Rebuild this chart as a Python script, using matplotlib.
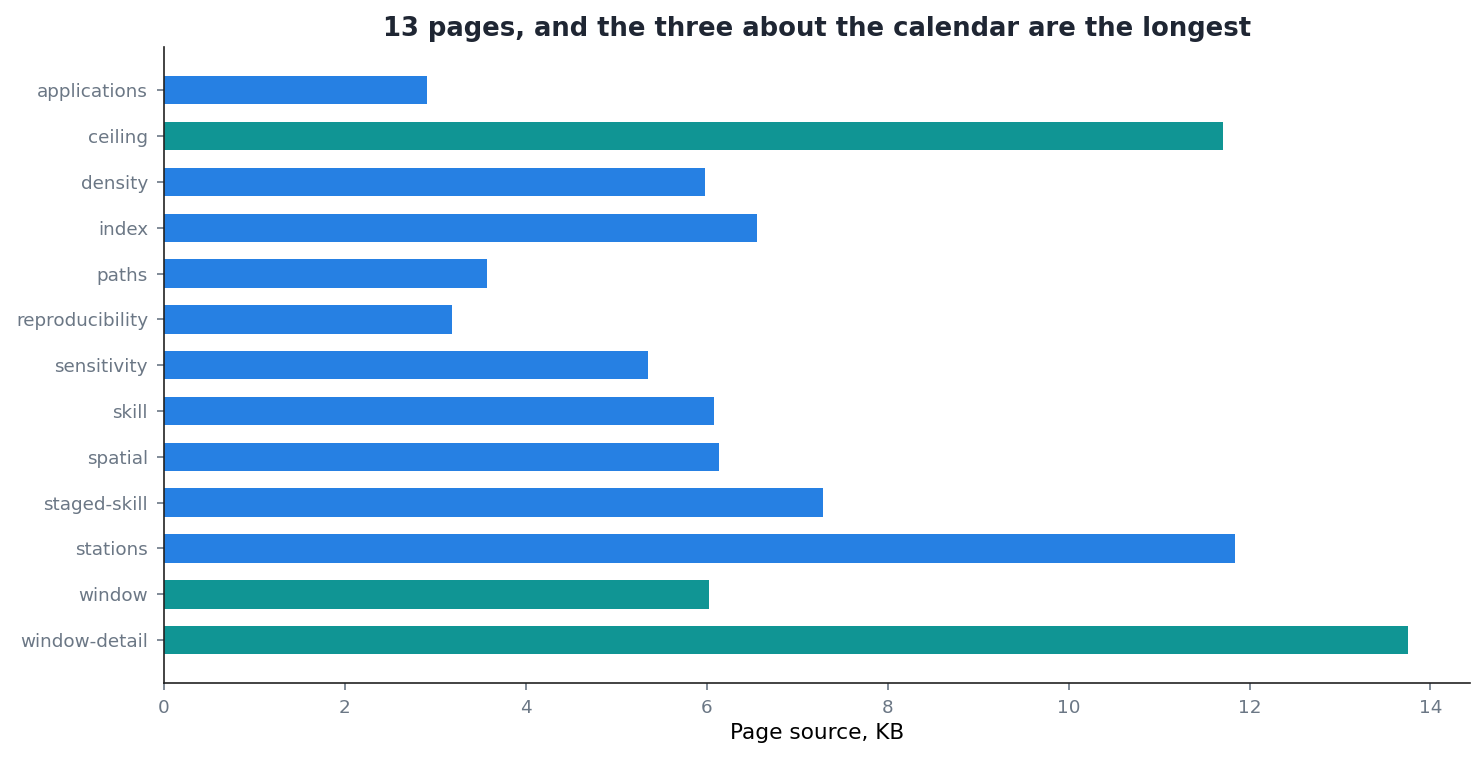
import matplotlib
matplotlib.use("Agg")
import matplotlib.pyplot as plt

# page names and their source size in KB
pages = ["applications", "ceiling", "density", "index", "paths", "reproducibility",
         "sensitivity", "skill", "spatial", "staged-skill", "stations", "window",
         "window-detail"]
sizes_kb = [2.91, 11.71, 5.98, 6.55, 3.57, 3.18, 5.35, 6.08, 6.14, 7.29, 11.84, 6.02, 13.75]
calendar_pages = ["ceiling", "window", "window-detail"]

BLUE = "#2680e3"
TEAL = "#109594"
GREY = "#6b7785"

colors = [TEAL if p in calendar_pages else BLUE for p in pages]

fig, ax = plt.subplots(figsize=(14.84, 7.6), dpi=100)
fig.subplots_adjust(left=0.1105, right=0.9906, top=0.938, bottom=0.101)

ax.barh(pages, sizes_kb, height=0.62, color=colors)
ax.invert_yaxis()

ax.set_title("13 pages, and the three about the calendar are the longest",
             fontsize=18.6, fontweight="bold", color="#1f2633", pad=8)
ax.set_xlabel("Page source, KB", fontsize=15.6, color="black", labelpad=4)

for side in ["top", "right"]:
    ax.spines[side].set_visible(False)
for side in ["left", "bottom"]:
    ax.spines[side].set_color("#222222")
    ax.spines[side].set_linewidth(1.2)

ax.tick_params(axis="both", labelsize=13.2, colors=GREY, labelcolor=GREY,
               length=5, width=1.2, pad=6.5)

fig.savefig("out.png", dpi=100)
